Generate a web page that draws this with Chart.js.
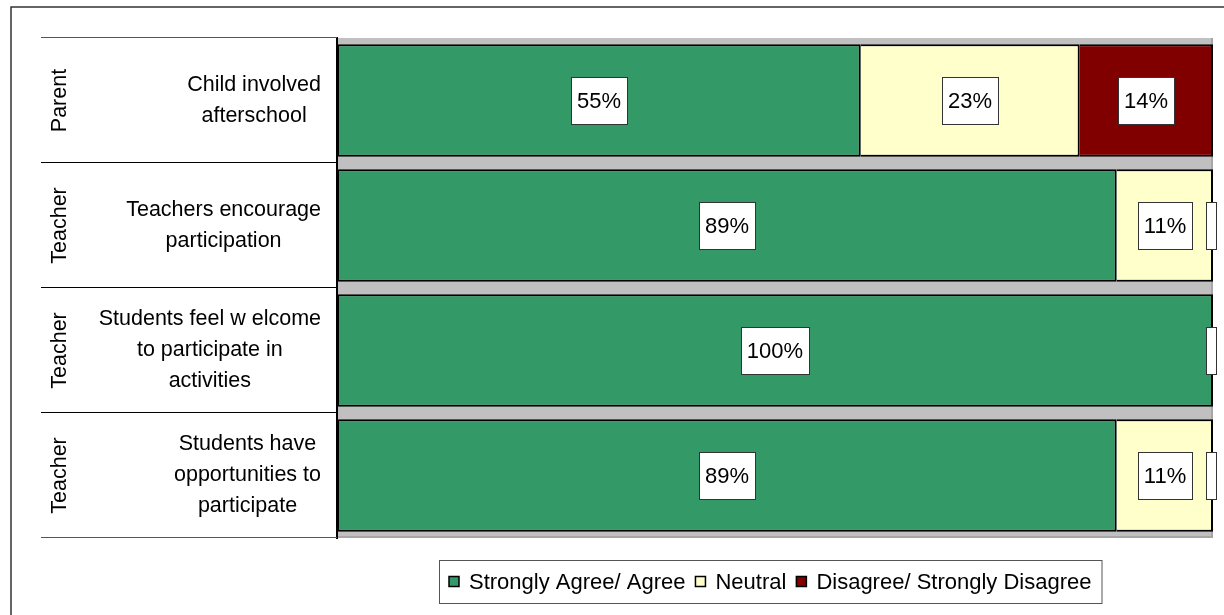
<!DOCTYPE html>
<html lang="en">
<head>
<meta charset="UTF-8">
<title>Participation survey</title>
<script src="https://cdn.jsdelivr.net/npm/chart.js@4"></script>
<style>
  html, body { margin: 0; padding: 0; background: #fff; }
  #wrap { width: 1224px; height: 615px; position: relative; }
</style>
</head>
<body>
<div id="wrap"><canvas id="chart" width="1224" height="615"></canvas></div>
<script>
// Data
const groups = ["Parent", "Teacher", "Teacher", "Teacher"];
const categories = [
  ["Child involved", "afterschool"],
  ["Teachers encourage", "participation"],
  ["Students feel w elcome", "to participate in", "activities"],
  ["Students have", "opportunities to", "participate"],
];
const seriesNames = ["Strongly Agree/ Agree", "Neutral", "Disagree/ Strongly Disagree"];
const agree = [55, 89, 100, 89];
const neutral = [23, 11, 0, 11];
const disagree = [14, 0, 0, 0];
const colors = ["#339966", "#FFFFCC", "#800000"];

const FONT = '"Liberation Sans", Arial, sans-serif';
const raw = [agree, neutral, disagree];

// 100% stacked: each segment is its share of the row total
const totals = categories.map((c, i) => raw.reduce((s, arr) => s + arr[i], 0));
const shares = raw.map(arr => arr.map((v, i) => (v / totals[i]) * 100));

const decorations = {
  id: "decorations",
  beforeDraw(chart) {
    const { ctx, chartArea: a } = chart;
    ctx.save();
    // outer frame (top + left visible)
    ctx.strokeStyle = "#333";
    ctx.lineWidth = 1.5;
    ctx.beginPath();
    ctx.moveTo(11, 615);
    ctx.lineTo(11, 7);
    ctx.lineTo(1224, 7);
    ctx.stroke();
    // plot background
    ctx.fillStyle = "#c0c0c0";
    ctx.fillRect(a.left, a.top, a.right - a.left, a.bottom - a.top);
    ctx.fillStyle = "#a6a6a6";
    ctx.fillRect(a.left, a.bottom - 2, a.right - a.left, 2);
    ctx.fillRect(a.right - 2, a.top, 2, a.bottom - a.top);
    ctx.restore();
  },
  afterDatasetsDraw(chart) {
    const { ctx, chartArea: a } = chart;
    const y = chart.scales.y;
    const x = chart.scales.x;
    const band = (y.getPixelForValue(1) - y.getPixelForValue(0));
    ctx.save();

    // axis line on the left of the plot
    ctx.strokeStyle = "#000";
    ctx.lineWidth = 2;
    ctx.beginPath();
    ctx.moveTo(a.left, a.top - 1);
    ctx.lineTo(a.left, a.bottom + 1);
    ctx.stroke();

    // left table lines
    for (let i = 0; i <= categories.length; i++) {
      const yy = Math.round(a.top + i * band) - 0.5;
      ctx.strokeStyle = (i === 0 || i === categories.length) ? "#555" : "#000";
      ctx.lineWidth = 1;
      ctx.beginPath();
      ctx.moveTo(41, yy);
      ctx.lineTo(a.left, yy);
      ctx.stroke();
    }

    // group labels (rotated) and category labels
    ctx.fillStyle = "#000";
    categories.forEach((lines, i) => {
      const cy = y.getPixelForValue(i);
      ctx.save();
      ctx.translate(60, cy);
      ctx.rotate(-Math.PI / 2);
      ctx.font = "21.5px " + FONT;
      ctx.textAlign = "center";
      ctx.textBaseline = "middle";
      ctx.fillText(groups[i], 0, 0);
      ctx.restore();

      ctx.font = "21.5px " + FONT;
      ctx.textAlign = "center";
      ctx.textBaseline = "middle";
      const maxW = Math.max(...lines.map(l => ctx.measureText(l).width));
      const cx = 321 - maxW / 2;
      const lh = 31;
      lines.forEach((l, k) => {
        ctx.fillText(l, cx, cy + (k - (lines.length - 1) / 2) * lh);
      });
    });

    // data labels
    ctx.font = "22px " + FONT;
    ctx.textAlign = "center";
    ctx.textBaseline = "middle";
    chart.data.datasets.forEach((ds, di) => {
      const meta = chart.getDatasetMeta(di);
      meta.data.forEach((bar, i) => {
        const v = raw[di][i];
        const bh = 47;
        if (v > 0) {
          const txt = v + "%";
          const w = Math.round(ctx.measureText(txt).width + 12);
          const cx = (bar.x + bar.base) / 2;
          const bx = Math.round(cx - w / 2);
          const by = Math.round(bar.y - bh / 2);
          ctx.fillStyle = "#fff";
          ctx.fillRect(bx, by, w, bh);
          ctx.strokeStyle = "#333";
          ctx.lineWidth = 1;
          ctx.strokeRect(bx + 0.5, by + 0.5, w, bh);
          ctx.fillStyle = "#000";
          ctx.fillText(txt, bx + w / 2, bar.y + 1);
        } else if (di === chart.data.datasets.length - 1) {
          // empty label box for a zero segment at the end of the stack
          const cx = x.getPixelForValue(100) - 2;
          ctx.fillStyle = "#fff";
          ctx.fillRect(cx - 5, bar.y - bh / 2, 10, bh);
          ctx.strokeStyle = "#333";
          ctx.lineWidth = 1;
          ctx.strokeRect(Math.round(cx - 5) + 0.5, Math.round(bar.y - bh / 2) + 0.5, 10, bh);
        }
      });
    });

    // legend
    ctx.font = "22px " + FONT;
    ctx.textAlign = "left";
    const widths = seriesNames.map(n => ctx.measureText(n).width);
    const total = widths.reduce((s, w) => s + w + 30, 0) + 10;
    const left = Math.round(770 - total / 2);
    const top = 560, h = 43;
    ctx.fillStyle = "#fff";
    ctx.fillRect(left, top, total, h);
    ctx.strokeStyle = "#555";
    ctx.lineWidth = 1;
    ctx.strokeRect(left + 0.5, top + 0.5, total, h);
    let lx = left + 10;
    const my = top + h / 2;
    seriesNames.forEach((n, k) => {
      ctx.fillStyle = colors[k];
      ctx.fillRect(lx, my - 5, 10, 10);
      ctx.strokeStyle = "#000";
      ctx.lineWidth = 1.5;
      ctx.strokeRect(lx, my - 5, 10, 10);
      ctx.fillStyle = "#000";
      ctx.textBaseline = "middle";
      ctx.fillText(n, lx + 20, my + 1);
      lx += 20 + widths[k] + 10;
    });
    ctx.restore();
  },
};

new Chart(document.getElementById("chart"), {
  type: "bar",
  data: {
    labels: categories,
    datasets: seriesNames.map((name, k) => ({
      label: name,
      data: shares[k],
      backgroundColor: colors[k],
      borderColor: "#000",
      // single divider between stacked segments
      borderWidth: { top: 2, bottom: 2, right: 2, left: k === 0 ? 2 : 0 },
      borderSkipped: false,
      barPercentage: 0.9,
      categoryPercentage: 1,
    })),
  },
  options: {
    indexAxis: "y",
    responsive: false,
    animation: false,
    layout: { padding: { left: 337, right: 11, top: 38, bottom: 77 } },
    scales: {
      x: { stacked: true, min: 0, max: 100, display: false },
      y: { stacked: true, display: false },
    },
    plugins: {
      legend: { display: false },
      tooltip: { enabled: false },
    },
  },
  plugins: [decorations],
});
</script>
</body>
</html>
